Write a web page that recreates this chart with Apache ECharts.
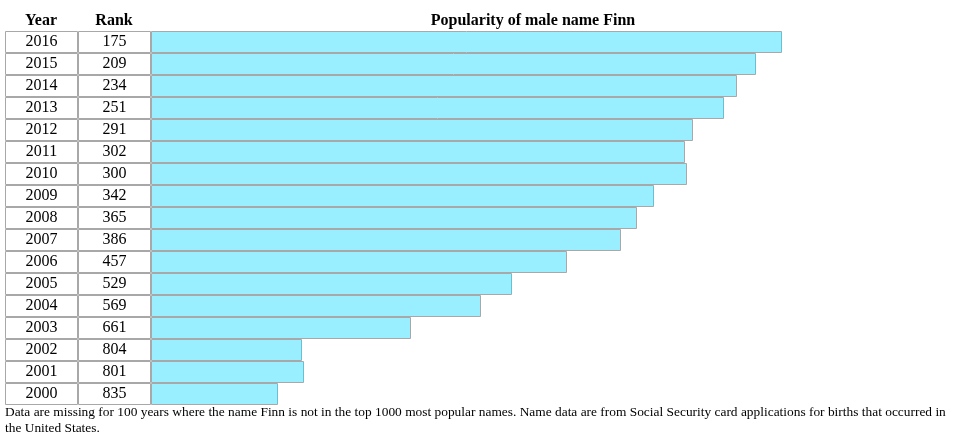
<!DOCTYPE html>
<html>
<head>
<meta charset="utf-8">
<script src="https://cdn.jsdelivr.net/npm/echarts@6/dist/echarts.min.js"></script>
<style>
html,body{margin:0;padding:0;background:#fff;}
#chart{width:955px;height:444px;}
</style>
</head>
<body>
<div id="chart"></div>
<script>
const years = ['2016','2015','2014','2013','2012','2011','2010','2009','2008','2007','2006','2005','2004','2003','2002','2001','2000'];
const ranks = [175,209,234,251,291,302,300,342,365,386,457,529,569,661,804,801,835];
const columnHeaders = ['Year','Rank'];
const chartTitle = 'Popularity of male name Finn';
const footnote = 'Data are missing for 100 years where the name Finn is not in the top 1000 most popular names. Name data are from Social Security card applications for births that occurred in the United States.';

const FONT = '"Liberation Serif", "Times New Roman", serif';
const GRID_COLOR = '#a8a8a8';
const BAR_COLOR = '#99eeff';

const chart = echarts.init(document.getElementById('chart'), null, {renderer: 'canvas'});

const rows = years.map((y, i) => [ranks[i], y]);

function cellTop(api) {
  const c = api.coord([1000, api.value(1)]);
  const h = api.size([0, 1])[1];
  return {top: Math.round(c[1] - h / 2), h: Math.round(h), x0: c[0]};
}

const option = {
  backgroundColor: '#ffffff',
  animation: false,
  grid: {left: 151, top: 31, width: 763.6, height: 374, containLabel: false},
  xAxis: {type: 'value', min: 0, max: 1000, inverse: true, show: false},
  yAxis: {type: 'category', data: years, inverse: true, show: false},
  graphic: [
    {type: 'text', x: 41, y: 21, style: {text: columnHeaders[0], align: 'center', verticalAlign: 'middle', fontFamily: FONT, fontSize: 16, fontWeight: 'bold', fill: '#000'}},
    {type: 'text', x: 114, y: 21, style: {text: columnHeaders[1], align: 'center', verticalAlign: 'middle', fontFamily: FONT, fontSize: 16, fontWeight: 'bold', fill: '#000'}},
    {type: 'text', x: 533, y: 21, style: {text: chartTitle, align: 'center', verticalAlign: 'middle', fontFamily: FONT, fontSize: 16, fontWeight: 'bold', fill: '#000'}},
    {type: 'text', x: 5, y: 405, style: {text: footnote, width: 947, overflow: 'break', lineHeight: 15.5, align: 'left', verticalAlign: 'top', fontFamily: FONT, fontSize: 13.4, fill: '#000'}}
  ],
  series: [
    {
      name: 'Table',
      type: 'custom',
      data: rows,
      encode: {x: 0, y: 1},
      silent: true,
      renderItem: function (params, api) {
        const t = cellTop(api);
        const idx = params.dataIndex;
        const cy = t.top + t.h / 2;
        return {
          type: 'group',
          children: [
            {type: 'rect', shape: {x: 5.5, y: t.top + 0.5, width: 72, height: t.h - 1}, style: {fill: '#fff', stroke: GRID_COLOR, lineWidth: 1}},
            {type: 'rect', shape: {x: 78.5, y: t.top + 0.5, width: 72, height: t.h - 1}, style: {fill: '#fff', stroke: GRID_COLOR, lineWidth: 1}},
            {type: 'text', style: {text: years[idx], x: 41.5, y: cy, align: 'center', verticalAlign: 'middle', fontFamily: FONT, fontSize: 16, fill: '#000'}},
            {type: 'text', style: {text: String(api.value(0)), x: 114.5, y: cy, align: 'center', verticalAlign: 'middle', fontFamily: FONT, fontSize: 16, fill: '#000'}}
          ]
        };
      },
      z: 2
    },
    {
      name: 'Popularity',
      type: 'custom',
      data: rows,
      encode: {x: 0, y: 1},
      silent: true,
      renderItem: function (params, api) {
        const t = cellTop(api);
        const end = api.coord([api.value(0), api.value(1)]);
        const x0 = Math.round(t.x0);
        const x1 = Math.round(end[0]);
        return {
          type: 'rect',
          shape: {x: x0 + 0.5, y: t.top + 0.5, width: x1 - x0, height: t.h - 1},
          style: {fill: BAR_COLOR, stroke: GRID_COLOR, lineWidth: 1}
        };
      },
      z: 2
    }
  ]
};
chart.setOption(option);
</script>
</body>
</html>
